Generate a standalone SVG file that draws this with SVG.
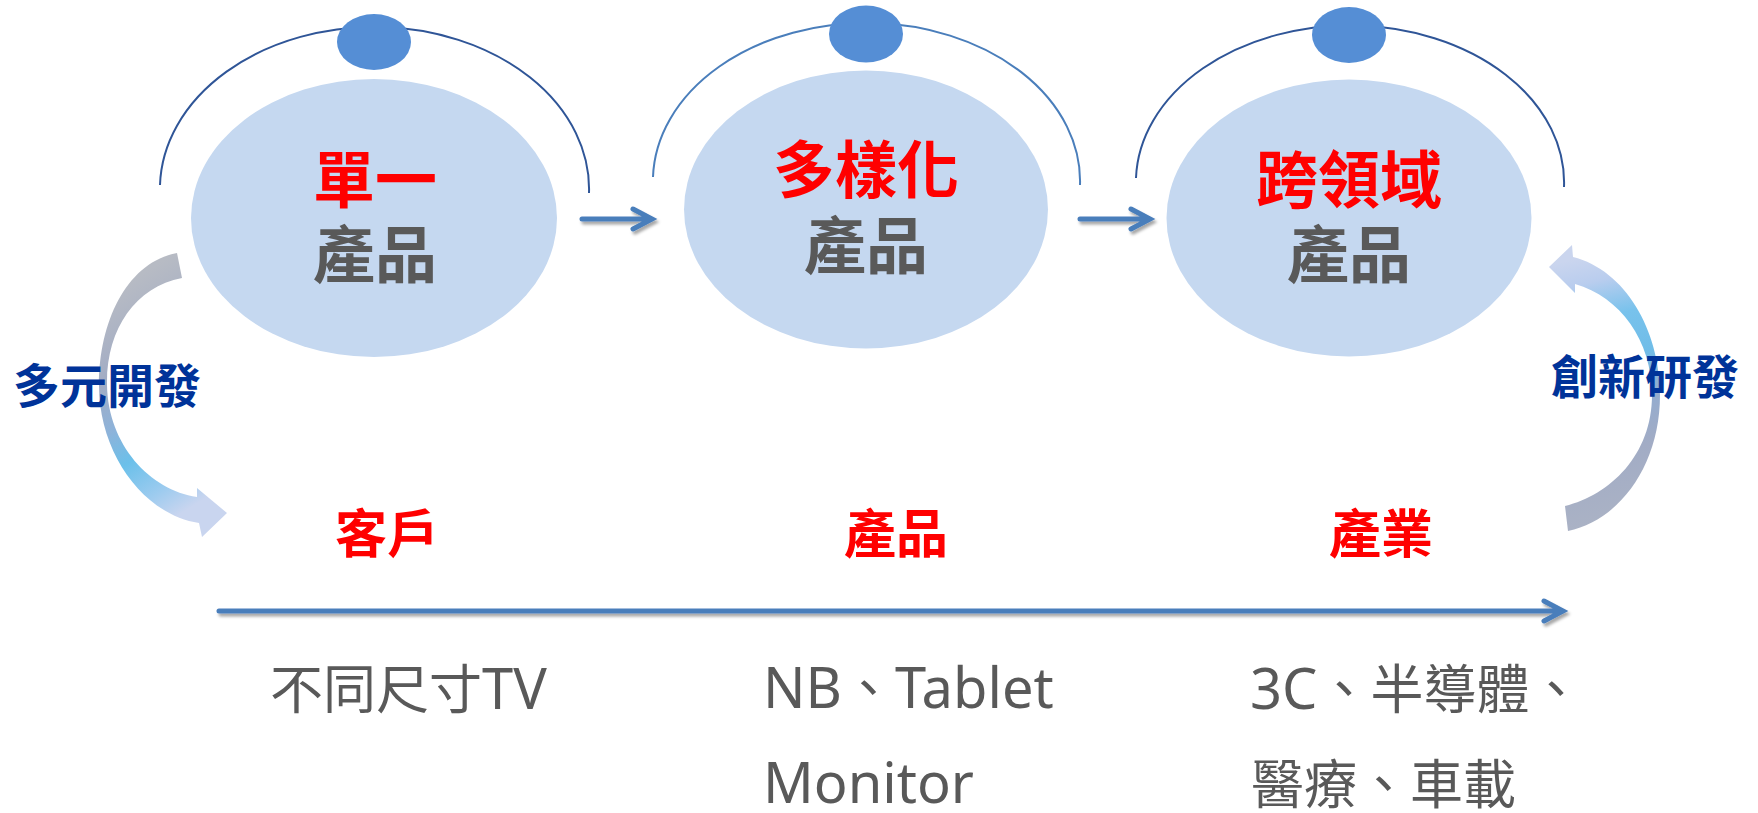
<svg xmlns="http://www.w3.org/2000/svg" width="1758" height="813" viewBox="0 0 1758 813">
  <defs>
    <style>
      .arc { fill: none; stroke: #2F5597; stroke-width: 2; }
      .arc2 { fill: none; stroke: #4A7EBB; stroke-width: 2; }
      .big { fill: #C5D8F0; }
      .dot { fill: #558ED5; }
      .main { font-family: "Noto Sans CJK TC", "Noto Sans CJK SC", sans-serif; font-size: 62px; font-weight: 700; text-anchor: middle; }
      .red { fill: #FF0000; }
      .gray { fill: #595959; }
      .sub { font-family: "Noto Sans CJK TC", "Noto Sans CJK SC", sans-serif; font-size: 52px; font-weight: 700; text-anchor: middle; fill: #FF0000; }
      .side { font-family: "Noto Sans CJK TC", "Noto Sans CJK SC", sans-serif; font-size: 47px; font-weight: 700; text-anchor: middle; fill: #003399; }
      .desc { font-family: "Noto Sans", "Noto Sans CJK TC", sans-serif; font-size: 53px; fill: #595959; }
      .lat { font-size: 56px; }
      .conn { fill: none; stroke: #4A7EBB; stroke-width: 5; stroke-linecap: round; stroke-linejoin: miter; }
    </style>
    <filter id="shadow" x="-20%" y="-50%" width="140%" height="200%">
      <feDropShadow dx="2" dy="3" stdDeviation="1.6" flood-color="#000000" flood-opacity="0.35"/>
    </filter>
    <linearGradient id="gradL" gradientUnits="userSpaceOnUse" x1="100" y1="300" x2="225" y2="500">
      <stop offset="0" stop-color="#B7BBC4"/>
      <stop offset="0.3" stop-color="#A2ACC4"/>
      <stop offset="0.5" stop-color="#8DB3DA"/>
      <stop offset="0.65" stop-color="#6BC0EA"/>
      <stop offset="0.82" stop-color="#9CCBEF"/>
      <stop offset="0.95" stop-color="#C9D5EF"/>
    </linearGradient>
    <linearGradient id="gradR" gradientUnits="userSpaceOnUse" x1="1550" y1="265" x2="1610" y2="520">
      <stop offset="0" stop-color="#CAD5EE"/>
      <stop offset="0.1" stop-color="#B9CDEE"/>
      <stop offset="0.24" stop-color="#78C2EC"/>
      <stop offset="0.4" stop-color="#70BDE8"/>
      <stop offset="0.56" stop-color="#93ACCF"/>
      <stop offset="0.75" stop-color="#A2ACC5"/>
      <stop offset="1" stop-color="#AAB2C5"/>
    </linearGradient>
  </defs>

  <rect width="1758" height="813" fill="#FFFFFF"/>

  <g id="connectors">
    <path d="M177,253 C128,262 99,320 99,385 C99,455 145,515 199,523 L202,537 L227,513 L197,488 L197,497 C150,490 108,445 107,385 C106,330 135,287 182,278 Z" fill="url(#gradL)"/>
    <path d="M1549,267 L1572,245 L1573,257 C1625,270 1660,330 1660,395 C1660,465 1620,520 1568,531 L1565,506 C1610,495 1652,455 1652,395 C1652,340 1620,297 1575,284 L1575,293 Z" fill="url(#gradR)"/>
    <g filter="url(#shadow)">
      <path class="conn" d="M582,219 H648 M633,209 L652,219 L633,229"/>
      <path class="conn" d="M1080,219 H1146 M1131,209 L1150,219 L1131,229"/>
      <path class="conn" d="M219,611 H1559 M1544,601 L1563,611 L1544,621"/>
    </g>
  </g>

  <g id="node-single">
    <path class="arc" d="M160,185 A214.5,162 0 0 1 589,193"/>
    <ellipse class="big" cx="374" cy="218" rx="183" ry="139"/>
    <ellipse class="dot" cx="374" cy="42" rx="37" ry="28"/>
    <text class="main red" x="375" y="203">單一</text>
    <text class="main gray" x="375" y="278">產品</text>
  </g>

  <g id="node-diverse">
    <path class="arc2" d="M653,177 A213.5,158 0 0 1 1080,185"/>
    <ellipse class="big" cx="866" cy="209.5" rx="182" ry="139"/>
    <ellipse class="dot" cx="866" cy="34" rx="37" ry="28.5"/>
    <text class="main red" x="866" y="193">多樣化</text>
    <text class="main gray" x="866" y="269">產品</text>
  </g>

  <g id="node-cross">
    <path class="arc" d="M1136,178 A214,157 0 0 1 1564,187"/>
    <ellipse class="big" cx="1349" cy="218" rx="182.5" ry="138.5"/>
    <ellipse class="dot" cx="1349" cy="35" rx="37" ry="28"/>
    <text class="main red" x="1349" y="203">跨領域</text>
    <text class="main gray" x="1349" y="278">產品</text>
  </g>

  <g id="label-left">
    <text class="side" x="107" y="403">多元開發</text>
  </g>
  <g id="label-right">
    <text class="side" x="1645" y="394">創新研發</text>
  </g>

  <g id="stage-customer">
    <text class="sub" x="387" y="553">客戶</text>
    <text class="desc" x="270" y="709">不同尺寸<tspan class="lat">TV</tspan></text>
  </g>
  <g id="stage-product">
    <text class="sub" x="896" y="553">產品</text>
    <text class="desc" x="763" y="708"><tspan class="lat">NB</tspan>、<tspan class="lat">Tablet</tspan></text>
    <text class="desc" x="763" y="803"><tspan class="lat">Monitor</tspan></text>
  </g>
  <g id="stage-industry">
    <text class="sub" x="1381" y="553">產業</text>
    <text class="desc" x="1250" y="709"><tspan class="lat">3C</tspan>、半導體、</text>
    <text class="desc" x="1251" y="804">醫療、車載</text>
  </g>
</svg>
